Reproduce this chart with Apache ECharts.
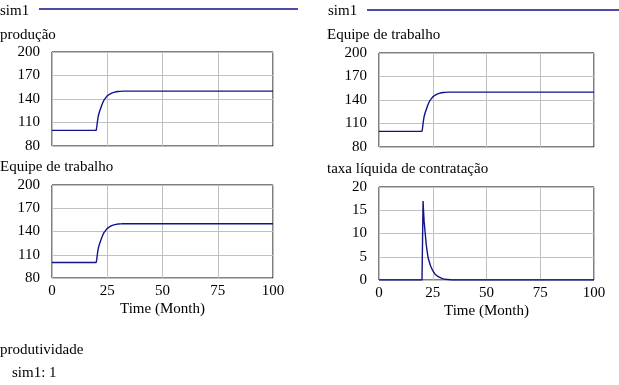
<!DOCTYPE html>
<html><head><meta charset="utf-8">
<script src="https://cdn.jsdelivr.net/npm/echarts@6/dist/echarts.min.js"></script>
<style>html,body{margin:0;padding:0;background:#fff}#c{width:619px;height:385px}</style>
</head><body><div id="c"></div>
<script>
// ---- data ----
const runName = 'sim1';
const timeStaff = [0, 20, 20.25, 20.5, 20.75, 21, 21.5, 22, 22.5, 23, 23.5, 24, 25, 26, 27, 28, 29, 30, 31, 32, 33, 100];
const producao = [100, 100, 104, 110, 115, 119, 124, 128, 132, 135.5, 138.5, 141, 144, 146, 147.5, 148.5, 149.2, 149.6, 149.8, 150, 150, 150];
const equipe = [100, 100, 104, 110, 115, 119, 124, 128, 132, 135.5, 138.5, 141, 144, 146, 147.5, 148.5, 149.2, 149.6, 149.8, 150, 150, 150];
const timeRate = [0, 20, 20.25, 20.5, 20.75, 21, 21.5, 22, 22.5, 23, 24, 25, 26, 27, 28, 29, 30, 31, 32, 33, 34, 100];
const taxa = [0, 0, 8.5, 17, 14.5, 12.5, 10, 7.5, 5.8, 4.5, 3, 2, 1.3, 0.9, 0.6, 0.4, 0.25, 0.15, 0.1, 0.05, 0, 0];
const titles = ['produção', 'Equipe de trabalho', 'Equipe de trabalho', 'taxa líquida de contratação'];
const xName = 'Time (Month)';
const constName = 'produtividade';
const constValue = 1;

const FONT = '"Liberation Serif", "Times New Roman", serif';
const LINE = '#12128c';
const pairs = (t, v) => t.map((x, i) => [x, v[i]]);

const grids = [
  {left: 52, top: 52, width: 221, height: 94},
  {left: 379, top: 53, width: 215, height: 94},
  {left: 52, top: 185, width: 221, height: 93},
  {left: 379, top: 187, width: 215, height: 93}
].map(g => Object.assign({show: true, borderColor: '#000', borderWidth: 1, backgroundColor: 'transparent'}, g));

const xAxes = grids.map((g, i) => ({
  type: 'value', gridIndex: i, min: 0, max: 100, interval: 25,
  axisLine: {show: false}, axisTick: {show: false},
  splitLine: {show: true, lineStyle: {color: '#c0c0c0', width: 1}},
  axisLabel: {show: i >= 2, fontFamily: FONT, fontSize: 15, color: '#000', margin: 6},
  name: i >= 2 ? xName : '', nameLocation: 'middle', nameGap: 24,
  nameTextStyle: {fontFamily: FONT, fontSize: 15, color: '#000'}
}));
const yRanges = [[80, 200, 30], [80, 200, 30], [80, 200, 30], [0, 20, 5]];
const yAxes = yRanges.map((r, i) => ({
  type: 'value', gridIndex: i, min: r[0], max: r[1], interval: r[2],
  axisLine: {show: false}, axisTick: {show: false},
  splitLine: {show: true, lineStyle: {color: '#c0c0c0', width: 1}},
  axisLabel: {fontFamily: FONT, fontSize: 15, color: '#000', margin: 12, padding: [3, 0, 0, 0]}
}));
const mk = (i, d) => ({
  type: 'line', name: runName, xAxisIndex: i, yAxisIndex: i, data: d,
  showSymbol: false, symbol: 'none', lineStyle: {color: LINE, width: 1.4}, itemStyle: {color: LINE}
});
const txt = (s, x, y) => ({type: 'text', x: x, y: y, style: {text: s, font: '15px ' + FONT, fill: '#000', verticalAlign: 'middle'}});
const line = (x1, x2, y) => ({type: 'line', shape: {x1: x1, y1: y, x2: x2, y2: y}, style: {stroke: LINE, lineWidth: 1.4}});

const chart = echarts.init(document.getElementById('c'), null, {renderer: 'canvas'});
chart.setOption({
  animation: false,
  grid: grids, xAxis: xAxes, yAxis: yAxes,
  series: [
    mk(0, pairs(timeStaff, producao)),
    mk(1, pairs(timeStaff, equipe)),
    mk(2, pairs(timeStaff, equipe)),
    mk(3, pairs(timeRate, taxa))
  ],
  graphic: [
    txt(runName, 0, 11), line(39, 298, 9),
    txt(runName, 328, 11), line(367, 619, 10),
    txt(titles[0], 0, 35), txt(titles[1], 327, 35),
    txt(titles[2], 0, 167), txt(titles[3], 327, 169),
    txt(constName, 0, 350), txt(runName + ': ' + constValue, 12, 373)
  ]
});
</script></body></html>
